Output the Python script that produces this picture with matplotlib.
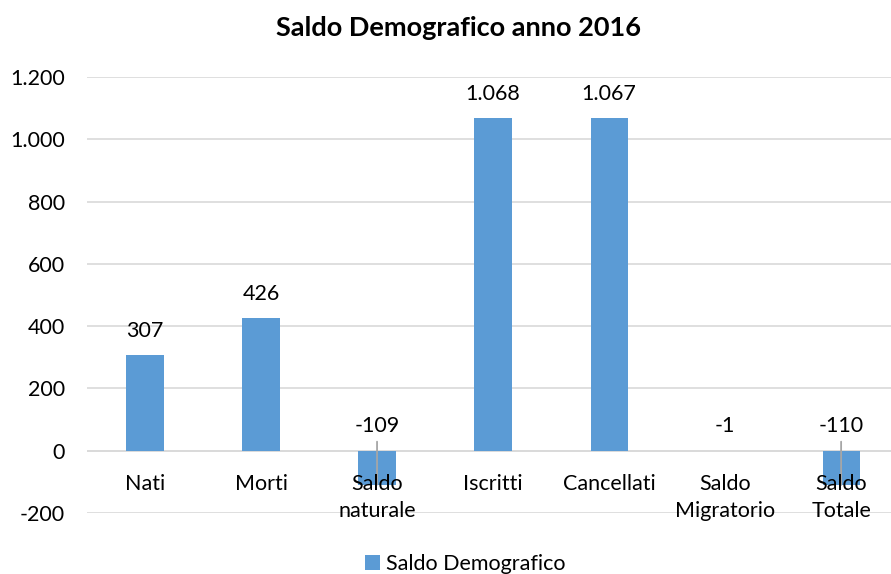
import matplotlib
matplotlib.use("Agg")
import matplotlib.pyplot as plt
from matplotlib.ticker import FuncFormatter
from matplotlib.text import OffsetFrom

plt.rcParams["font.family"] = ["Lato", "DejaVu Sans"]

categories = ["Nati", "Morti", "Saldo\nnaturale", "Iscritti", "Cancellati",
              "Saldo\nMigratorio", "Saldo\nTotale"]
values = [307, 426, -109, 1068, 1067, -1, -110]
series_name = "Saldo Demografico"
title = "Saldo Demografico anno 2016"
y_ticks = [-200, 0, 200, 400, 600, 800, 1000, 1200]

bar_color = "#5B9BD5"
grid_color = "#D9D9D9"
fs = 15.5


def it_number(v, pos=None):
    return f"{int(v):,}".replace(",", ".")


fig = plt.figure(figsize=(8.91, 5.74), dpi=100)
ax = fig.add_axes([87 / 891, 0.1063, 1 - 87 / 891, 0.7596])

x = list(range(len(categories)))
ax.bar(x, values, width=0.32, color=bar_color, label=series_name, zorder=2)

ax.set_ylim(-200, 1200)
ax.set_xlim(-0.5, 6.43)
ax.set_yticks(y_ticks)
ax.yaxis.set_major_formatter(FuncFormatter(it_number))
ax.grid(True, axis="y", color=grid_color, linewidth=1.2, zorder=0)

for s in ["top", "right", "left", "bottom"]:
    ax.spines[s].set_visible(False)
ax.axhline(0, color=grid_color, linewidth=1.2, zorder=1)

ax.set_xticks([])
ax.tick_params(axis="y", length=0, pad=16, labelsize=fs, colors="black")

# category labels sit just under the zero line, drawn over the bars
for xi, name in zip(x, categories):
    ax.annotate(name, xy=(xi, 0), xytext=(0, -16.5), textcoords="offset points",
                ha="center", va="top", fontsize=fs, linespacing=1.45, zorder=5)

# data labels (with leader lines for the larger negative bars)
for xi, v in zip(x, values):
    base = max(v, 0)
    if v < -50:
        ax.annotate("", xy=(xi, v), xycoords="data",
                    xytext=(0, 6.5),
                    textcoords=OffsetFrom(ax.transData, (xi, 0), unit="points"),
                    arrowprops=dict(arrowstyle="-", color="#A6A6A6",
                                    linewidth=1.3, shrinkA=0, shrinkB=0),
                    zorder=3)
    ax.annotate(it_number(v), xy=(xi, base), xytext=(0, 17.5),
                textcoords="offset points", ha="center", va="center",
                fontsize=fs, zorder=4)

fig.text(0.515, 0.951, title, ha="center", va="center",
         fontsize=19.5, fontweight="bold")

fig.legend(loc="center", bbox_to_anchor=(0.522, 10 / 574), frameon=False,
           fontsize=fs, handlelength=0.7, handleheight=0.7, handletextpad=0.3)

fig.savefig("out.png", dpi=100)
